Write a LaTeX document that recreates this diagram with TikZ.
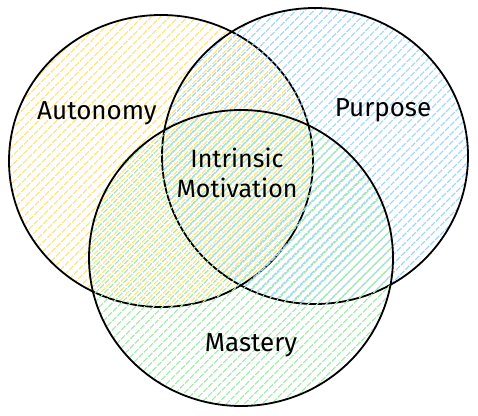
\documentclass[tikz,border=0pt]{standalone}
\usepackage{fontspec}
\setmainfont{Fira Sans}
\usepackage{tikz}
\usetikzlibrary{shapes.geometric,patterns.meta}

\definecolor{autoyel}{HTML}{FFE27A}
\definecolor{purpblue}{HTML}{94CFFF}
\definecolor{mastgreen}{HTML}{A0EBAA}

\begin{document}
\begin{tikzpicture}[x=1pt, y=1pt, every node/.style={font=\fontsize{26}{30}\selectfont}, set/.style={ellipse, draw, line width=1.8pt, inner sep=0pt, pattern={Lines[angle=45, distance=6.5pt, line width=1.3pt]}}]
	\useasboundingbox (0,0) rectangle (478,415);
	\node[set, pattern color=autoyel, minimum width=304pt, minimum height=292pt] (A) at (161,254) {};
	\node[set, pattern color=purpblue, minimum width=306pt, minimum height=296pt] (P) at (315,259) {};
	\node[set, pattern color=mastgreen, minimum width=304pt, minimum height=296pt] (M) at (241,157) {};
	\node (auto) at (97,302) {Autonomy};
	\node (purp) at (383,305) {Purpose};
	\node (mast) at (251,70) {Mastery};
	\node[align=center, font=\fontsize{25}{30}\selectfont] (intr) at (237,242) {Intrinsic\\Motivation};
	
\end{tikzpicture}
\end{document}
